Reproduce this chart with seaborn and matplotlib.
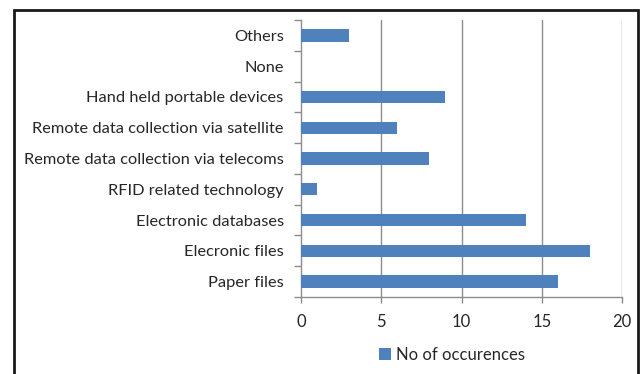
import numpy as np
import pandas as pd
import matplotlib.pyplot as plt
import seaborn as sns
from matplotlib.patches import Rectangle

# -------------------------------
# Data (top to bottom as shown)
# -------------------------------
categories = [
    "Others",
    "None",
    "Hand held portable devices",
    "Remote data collection via satellite",
    "Remote data collection via telecoms",
    "RFID related technology",
    "Electronic databases",
    "Elecronic files",
    "Paper files",
]
occurrences = [3, 0, 9, 6, 8, 1, 14, 18, 16]
x_ticks = [0, 5, 10, 15, 20]
series_name = "No of occurences"

df = pd.DataFrame({"Category": categories, "Count": occurrences})

sns.set_theme(style="white")
plt.rcParams["font.family"] = ["Lato", "DejaVu Sans"]

W, H = 643, 374
fig = plt.figure(figsize=(W / 100, H / 100), dpi=100)
ax = fig.add_axes([301 / W, 1 - 297 / H, (622 - 301) / W, (297 - 20) / H])

sns.barplot(
    data=df, y="Category", x="Count", order=categories,
    color="#4F81BD", saturation=1, width=0.4, linewidth=0,
    label=series_name, ax=ax, zorder=3,
)

ax.set_xlim(0, 20)
ax.set_ylim(len(categories) - 0.5, -0.5)
ax.set_xticks(x_ticks)
ax.set_xlabel("")
ax.set_ylabel("")

# grid
for v in x_ticks[1:]:
    ax.axvline(v, color="#8C8C8C", lw=1, zorder=1)

for s in ["top", "right"]:
    ax.spines[s].set_visible(False)
for s in ["left", "bottom"]:
    ax.spines[s].set_color("#8C8C8C")
    ax.spines[s].set_linewidth(1)

ax.set_yticks(np.arange(len(categories) + 1) - 0.5, minor=True)
ax.tick_params(axis="y", which="major", length=0, pad=12.5, labelsize=11.8, labelcolor="#262626")
ax.tick_params(axis="y", which="minor", length=5, width=1, color="#8C8C8C", left=True)
ax.tick_params(axis="x", which="major", length=4, width=1, color="#8C8C8C", bottom=True,
               pad=8, labelsize=12, labelcolor="#262626")

if ax.get_legend():
    ax.get_legend().remove()
handles, labels = ax.get_legend_handles_labels()
fig.legend(handles[:1], labels[:1], loc="center", bbox_to_anchor=(452 / W, 1 - 355 / H),
           frameon=False, fontsize=12, handlelength=0.75, handleheight=0.75,
           handletextpad=0.3, labelcolor="#262626")

# outer frame
fig.patches.append(Rectangle((14 / W, -0.01), (638 - 14) / W, 1 - 10 / H + 0.01,
                             transform=fig.transFigure, fill=False,
                             edgecolor="#1a1a1a", linewidth=2))

fig.savefig("out.png", dpi=100)
plt.close()
